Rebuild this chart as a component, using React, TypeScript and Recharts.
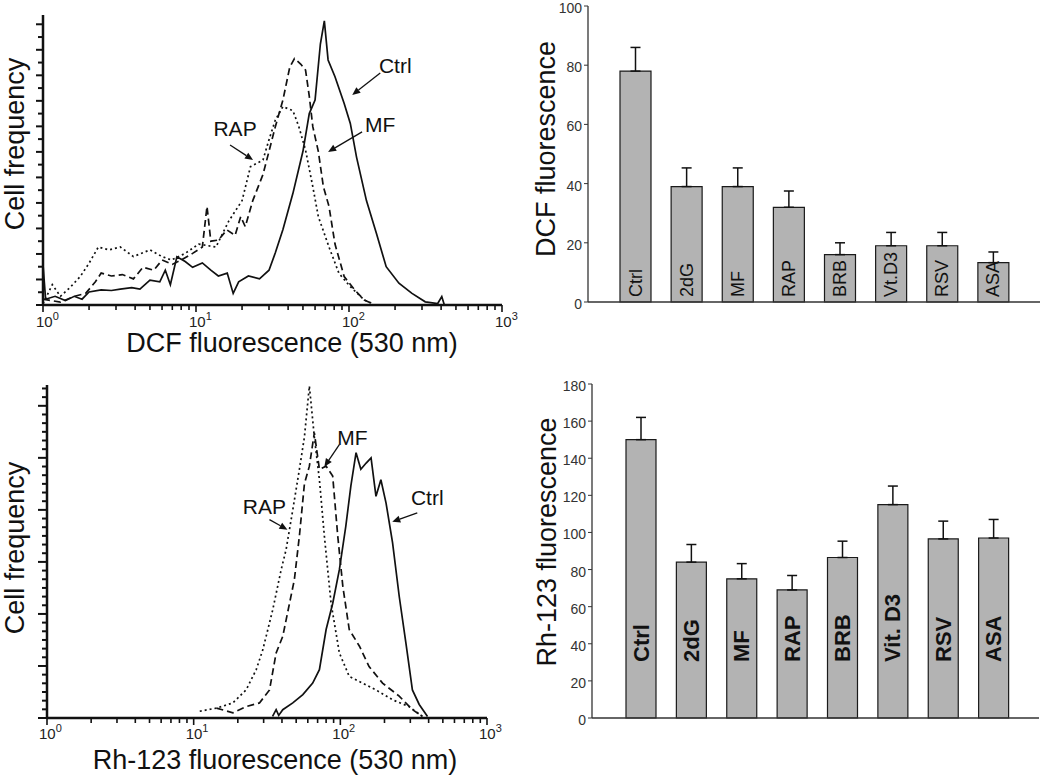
import React from "react";
import {
  LineChart,
  Line,
  XAxis,
  YAxis,
  ReferenceDot,
  BarChart,
  Bar,
  ErrorBar,
  LabelList,
} from "recharts";

const FONT = '"Liberation Sans", Arial, Helvetica, sans-serif';
const INK = "#111";

// DCF histogram (top left): x = fluorescence, y = cell count (arb. units)
const dcfCtrl = [
  { x: 1, y: 14 }, { x: 1.04, y: 2 }, { x: 1.2, y: 3 }, { x: 1.4, y: 1.5 },
  { x: 1.6, y: 3 }, { x: 1.8, y: 2 }, { x: 2.0, y: 4.5 }, { x: 2.4, y: 5.2 },
  { x: 2.8, y: 5 }, { x: 3.2, y: 5.5 }, { x: 3.8, y: 6 }, { x: 4.3, y: 5.5 },
  { x: 5, y: 8.6 }, { x: 5.8, y: 8 }, { x: 6.3, y: 12 }, { x: 6.8, y: 7 },
  { x: 7.5, y: 16.6 }, { x: 8.5, y: 15 }, { x: 9.5, y: 13 }, { x: 11, y: 14.5 },
  { x: 12.5, y: 12 }, { x: 14, y: 10 }, { x: 16, y: 11 }, { x: 17.5, y: 4 },
  { x: 19, y: 8 }, { x: 22, y: 10 }, { x: 26, y: 9 }, { x: 30, y: 12 },
  { x: 33, y: 18 }, { x: 37, y: 26 }, { x: 43, y: 38.5 }, { x: 50, y: 53 },
  { x: 55, y: 66 }, { x: 60, y: 70.7 }, { x: 65, y: 90 }, { x: 69, y: 98 },
  { x: 73, y: 84.5 }, { x: 81, y: 78.7 }, { x: 93, y: 69.5 }, { x: 102, y: 62.6 },
  { x: 112, y: 51 }, { x: 130, y: 36 }, { x: 151, y: 24.7 }, { x: 175, y: 13.2 },
  { x: 212, y: 7.5 }, { x: 258, y: 4 }, { x: 315, y: 1.1 }, { x: 380, y: 0.5 },
  { x: 404, y: 2.9 }, { x: 420, y: 0 },
];
const dcfMf = [
  { x: 1, y: 2 }, { x: 1.3, y: 1 }, { x: 1.6, y: 3 }, { x: 1.9, y: 4 },
  { x: 2.2, y: 8 }, { x: 2.4, y: 11 }, { x: 2.8, y: 10 }, { x: 3.3, y: 10.5 },
  { x: 3.9, y: 9 }, { x: 4.5, y: 13 }, { x: 5.3, y: 12 }, { x: 6, y: 15.5 },
  { x: 7, y: 14 }, { x: 8, y: 15.5 }, { x: 9.5, y: 17.8 }, { x: 11, y: 20 },
  { x: 11.8, y: 34 }, { x: 12.5, y: 22 }, { x: 14, y: 22.4 }, { x: 15.9, y: 25.9 },
  { x: 18, y: 24 }, { x: 19.6, y: 30.5 }, { x: 21, y: 27 }, { x: 23.5, y: 36 },
  { x: 27.4, y: 45 }, { x: 30, y: 53 }, { x: 33, y: 61.5 }, { x: 37, y: 70.7 },
  { x: 41, y: 82 }, { x: 44, y: 85 }, { x: 48.5, y: 83 }, { x: 52, y: 81 },
  { x: 55, y: 72 }, { x: 58, y: 61.5 }, { x: 63, y: 53 }, { x: 68, y: 40.8 },
  { x: 74, y: 34 }, { x: 81, y: 21 }, { x: 93, y: 9.8 }, { x: 109, y: 5.2 },
  { x: 126, y: 1.7 }, { x: 145, y: 0.3 },
];
const dcfRap = [
  { x: 1, y: 0.5 }, { x: 1.15, y: 7 }, { x: 1.3, y: 3 }, { x: 1.5, y: 6 },
  { x: 1.75, y: 9.8 }, { x: 2.0, y: 14.4 }, { x: 2.3, y: 20 }, { x: 2.7, y: 19 },
  { x: 3.2, y: 20 }, { x: 3.9, y: 16.7 }, { x: 5, y: 19 }, { x: 6, y: 16.7 },
  { x: 6.9, y: 15.5 }, { x: 8.5, y: 17.8 }, { x: 10.4, y: 21 }, { x: 13.5, y: 20 },
  { x: 16.4, y: 29 }, { x: 20, y: 36 }, { x: 22.7, y: 47.7 }, { x: 27.4, y: 50 },
  { x: 30, y: 57 }, { x: 33, y: 63.8 }, { x: 37, y: 68.4 }, { x: 43, y: 67 },
  { x: 47, y: 61.5 }, { x: 52, y: 53.4 }, { x: 58, y: 40.8 }, { x: 63, y: 30.5 },
  { x: 74, y: 20 }, { x: 86, y: 10.9 }, { x: 102, y: 6.3 }, { x: 126, y: 1.7 },
  { x: 145, y: 0.3 },
];

// Rh-123 histogram (bottom left)
const rhCtrl = [
  { x: 34.5, y: 0.3 }, { x: 36.5, y: 1.6 }, { x: 38, y: 0.5 }, { x: 40.5, y: 1.6 },
  { x: 47.4, y: 2.9 }, { x: 55.5, y: 4.5 }, { x: 64.8, y: 6.7 }, { x: 72, y: 9.3 },
  { x: 80, y: 17 }, { x: 88.7, y: 22 }, { x: 98.5, y: 28.5 }, { x: 109, y: 36.9 },
  { x: 118, y: 44.6 }, { x: 128, y: 51 }, { x: 138, y: 47.8 }, { x: 150, y: 49 },
  { x: 162, y: 50 }, { x: 175, y: 42.6 }, { x: 189, y: 45.8 }, { x: 205, y: 41.3 },
  { x: 227, y: 33.7 }, { x: 252, y: 23.4 }, { x: 280, y: 14.4 }, { x: 310, y: 5.4 },
  { x: 345, y: 2.6 }, { x: 393, y: 0.3 },
];
const rhMf = [
  { x: 14.3, y: 1.9 }, { x: 18.5, y: 1 }, { x: 22.8, y: 2.2 }, { x: 28.1, y: 2.9 },
  { x: 32.9, y: 5.4 }, { x: 36.5, y: 12.5 }, { x: 40.5, y: 15.7 }, { x: 45, y: 22 },
  { x: 48.6, y: 26.6 }, { x: 52.6, y: 35 }, { x: 56.9, y: 45 }, { x: 61.5, y: 48.4 },
  { x: 66.5, y: 54.8 }, { x: 72, y: 47.8 }, { x: 80, y: 48.4 }, { x: 88.7, y: 46.5 },
  { x: 96, y: 35 }, { x: 104, y: 25.3 }, { x: 115, y: 17 }, { x: 135, y: 13.8 },
  { x: 157, y: 9.9 }, { x: 194, y: 6.7 }, { x: 252, y: 4.2 }, { x: 310, y: 1.6 },
  { x: 363, y: 0.3 },
];
const rhRap = [
  { x: 11, y: 1.3 }, { x: 14.3, y: 1.9 }, { x: 18.5, y: 2.9 }, { x: 22.8, y: 5.4 },
  { x: 26.7, y: 9.3 }, { x: 29.6, y: 13.1 }, { x: 34.6, y: 20.8 }, { x: 39.5, y: 28.5 },
  { x: 42.7, y: 32.4 }, { x: 47.4, y: 40 }, { x: 52.6, y: 47.8 }, { x: 56.9, y: 54 },
  { x: 61.5, y: 63.8 }, { x: 66.5, y: 54 }, { x: 72, y: 45.8 }, { x: 77.8, y: 35 },
  { x: 86.5, y: 22 }, { x: 98.5, y: 12.5 }, { x: 115, y: 8 }, { x: 142, y: 6.7 },
  { x: 175, y: 5.4 }, { x: 227, y: 3.5 }, { x: 294, y: 2.2 }, { x: 363, y: 0.3 },
];

// decades 10^0..10^3 with the minor ticks in between
const logTicks = [
  1, 2, 3, 4, 5, 6, 7, 8, 9,
  10, 20, 30, 40, 50, 60, 70, 80, 90,
  100, 200, 300, 400, 500, 600, 700, 800, 900,
  1000,
];

// bar panels
const dcfGroups = ["Ctrl", "2dG", "MF", "RAP", "BRB", "Vt.D3", "RSV", "ASA"];
const dcfMeans = [78, 39, 39, 32, 16, 19, 19, 13.3];
const dcfSem = [8, 6.3, 6.3, 5.5, 4, 4.5, 4.5, 3.6];
const dcfTicks = [0, 20, 40, 60, 80, 100];

const rhGroups = ["Ctrl", "2dG", "MF", "RAP", "BRB", "Vit. D3", "RSV", "ASA"];
const rhMeans = [150, 84, 75, 69, 86.5, 115, 96.5, 97];
const rhSem = [12, 9.5, 8.2, 7.8, 8.8, 10, 9.6, 10];
const rhTicks = [0, 20, 40, 60, 80, 100, 120, 140, 160, 180];

interface Note {
  label: string;
  x: number;
  y: number;
  tail: [number, number];
  text: [number, number];
}

// arrow tip in data units; tail and text are pixel offsets from the tip
const dcfNotes: Note[] = [
  { label: "Ctrl", x: 105, y: 72.4, tail: [28, -22], text: [43, -30] },
  { label: "MF", x: 73, y: 52.8, tail: [34, -20], text: [52, -27] },
  { label: "RAP", x: 23.6, y: 50, tail: [-23, -15], text: [-18, -32] },
];
const rhNotes: Note[] = [
  { label: "MF", x: 77.8, y: 48.3, tail: [15, -22], text: [28, -29] },
  { label: "RAP", x: 43.6, y: 36.2, tail: [-18, -10], text: [-23, -23] },
  { label: "Ctrl", x: 226, y: 37.7, tail: [25, -9], text: [35, -24] },
];

function AxisTitle(props: any) {
  const vb = props.viewBox;
  if (!vb) return null;
  const cx = vb.x + vb.width / 2 + (props.dx || 0);
  const cy = vb.y + vb.height / 2 + (props.dy || 0);
  return (
    <text
      x={cx}
      y={cy}
      textAnchor="middle"
      dominantBaseline="central"
      transform={props.vertical ? `rotate(-90 ${cx} ${cy})` : undefined}
      fontSize={27}
      fontFamily={FONT}
      fill={INK}
    >
      {props.text}
    </text>
  );
}

function LogTick(props: any) {
  const { x, y, payload, labelDx, labelDy } = props;
  const l = Math.log10(payload.value);
  const exp = Math.round(l);
  const major = Math.abs(l - exp) < 1e-6;
  return (
    <g>
      <line x1={x} y1={y} x2={x} y2={y + (major ? 7 : 5)} stroke={INK} strokeWidth={1.6} />
      {major && (
        <text x={x + labelDx} y={y + labelDy} fontSize={15} fontFamily={FONT} fill="#222">
          10
          <tspan dy={-7} fontSize={11}>
            {exp}
          </tspan>
        </text>
      )}
    </g>
  );
}

function CountTick(props: any) {
  const { x, y, index, majorEvery, minorLen, majorLen } = props;
  const len = index % majorEvery === 0 ? majorLen : minorLen;
  return <line x1={x - len} y1={y} x2={x} y2={y} stroke={INK} strokeWidth={2} />;
}

function NoteMark(props: any) {
  const { cx, cy, note } = props;
  if (cx == null || cy == null) return null;
  const tx = cx + note.tail[0];
  const ty = cy + note.tail[1];
  const ang = Math.atan2(cy - ty, cx - tx);
  const h = 8;
  const w = 3.5;
  const bx = cx - h * Math.cos(ang);
  const by = cy - h * Math.sin(ang);
  const pts = [
    `${cx},${cy}`,
    `${bx + w * Math.sin(ang)},${by - w * Math.cos(ang)}`,
    `${bx - w * Math.sin(ang)},${by + w * Math.cos(ang)}`,
  ].join(" ");
  return (
    <g>
      <line x1={tx} y1={ty} x2={bx} y2={by} stroke={INK} strokeWidth={1.3} />
      <polygon points={pts} fill={INK} />
      <text
        x={cx + note.text[0]}
        y={cy + note.text[1]}
        textAnchor="middle"
        dominantBaseline="central"
        fontSize={21}
        fontFamily={FONT}
        fill={INK}
      >
        {note.label}
      </text>
    </g>
  );
}

interface HistogramProps {
  width: number;
  height: number;
  margin: { top: number; right: number; bottom: number; left: number };
  yAxisWidth: number;
  xAxisHeight: number;
  yMax: number;
  yStep: number;
  majorEvery: number;
  minorLen: number;
  majorLen: number;
  series: { data: { x: number; y: number }[]; dash?: string }[];
  notes: Note[];
  xTitle: string;
  xTitleShift: [number, number];
  yTitleShift: [number, number];
  tickLabel: [number, number];
}

function Histogram(p: HistogramProps) {
  const yTicks = Array.from(
    { length: Math.floor(p.yMax / p.yStep + 1e-6) + 1 },
    (_, i) => i * p.yStep
  );
  return (
    <LineChart width={p.width} height={p.height} margin={p.margin}>
      <XAxis
        dataKey="x"
        type="number"
        scale="log"
        domain={[1, 1000]}
        allowDataOverflow
        ticks={logTicks}
        interval={0}
        tickSize={0}
        tickMargin={0}
        tickLine={false}
        tick={(t: any) => (
          <LogTick {...t} labelDx={p.tickLabel[0]} labelDy={p.tickLabel[1]} />
        )}
        axisLine={{ stroke: INK, strokeWidth: 2.5 }}
        height={p.xAxisHeight}
        label={<AxisTitle text={p.xTitle} dx={p.xTitleShift[0]} dy={p.xTitleShift[1]} />}
      />
      <YAxis
        type="number"
        domain={[0, p.yMax]}
        allowDataOverflow
        ticks={yTicks}
        interval={0}
        tickSize={0}
        tickMargin={0}
        tickLine={false}
        tick={(t: any) => (
          <CountTick
            {...t}
            majorEvery={p.majorEvery}
            minorLen={p.minorLen}
            majorLen={p.majorLen}
          />
        )}
        axisLine={{ stroke: INK, strokeWidth: 2.5 }}
        width={p.yAxisWidth}
        label={
          <AxisTitle
            text="Cell frequency"
            vertical
            dx={p.yTitleShift[0]}
            dy={p.yTitleShift[1]}
          />
        }
      />
      {p.series.map((s, i) => (
        <Line
          key={i}
          data={s.data}
          dataKey="y"
          type="linear"
          stroke={INK}
          strokeWidth={1.7}
          strokeDasharray={s.dash}
          dot={false}
          activeDot={false}
          isAnimationActive={false}
        />
      ))}
      {p.notes.map((n) => (
        <ReferenceDot
          key={n.label}
          x={n.x}
          y={n.y}
          r={0}
          shape={(s: any) => <NoteMark {...s} note={n} />}
        />
      ))}
    </LineChart>
  );
}

function BarName(props: any) {
  const vb = props.viewBox ?? props;
  const { x, y, width, height } = vb;
  if (x == null) return null;
  const cx = x + width / 2;
  const by = y + height - props.lift;
  return (
    <text
      x={cx}
      y={by}
      textAnchor="start"
      dominantBaseline="central"
      transform={`rotate(-90 ${cx} ${by})`}
      fontSize={props.size}
      fontWeight={props.bold ? "bold" : "normal"}
      fontFamily={FONT}
      fill={INK}
    >
      {props.value}
    </text>
  );
}

interface BarPanelProps {
  width: number;
  height: number;
  margin: { top: number; right: number; bottom: number; left: number };
  yAxisWidth: number;
  xAxisHeight: number;
  groups: string[];
  means: number[];
  sem: number[];
  ticks: number[];
  barSize: number;
  padding: { left: number; right: number };
  yTitle: string;
  yTitleShift: [number, number];
  nameSize: number;
  nameBold: boolean;
  nameLift: number;
}

function BarPanel(p: BarPanelProps) {
  const data = p.groups.map((name, i) => ({
    name,
    mean: p.means[i],
    err: [0, p.sem[i]],
  }));
  const top = p.ticks[p.ticks.length - 1];
  return (
    <BarChart width={p.width} height={p.height} data={data} margin={p.margin}>
      <XAxis
        dataKey="name"
        padding={p.padding}
        tick={false}
        tickSize={4}
        tickLine={{ stroke: "#666" }}
        axisLine={{ stroke: "#333", strokeWidth: 1.3 }}
        height={p.xAxisHeight}
      />
      <XAxis
        xAxisId="frame"
        orientation="top"
        dataKey="name"
        tick={false}
        tickLine={false}
        axisLine={{ stroke: "#333", strokeWidth: 1.3 }}
        height={0}
      />
      <YAxis
        type="number"
        domain={[0, top]}
        ticks={p.ticks}
        interval={0}
        tickSize={4}
        tickMargin={2}
        tick={{ fontSize: 14, fill: "#333", fontFamily: FONT, dy: 2 }}
        tickLine={{ stroke: "#333" }}
        axisLine={{ stroke: "#333", strokeWidth: 1.3 }}
        width={p.yAxisWidth}
        label={
          <AxisTitle
            text={p.yTitle}
            vertical
            dx={p.yTitleShift[0]}
            dy={p.yTitleShift[1]}
          />
        }
      />
      <YAxis
        yAxisId="frame"
        orientation="right"
        tick={false}
        tickLine={false}
        axisLine={{ stroke: "#333", strokeWidth: 1.3 }}
        width={0}
      />
      <Bar
        dataKey="mean"
        fill="#b3b3b3"
        stroke="#1a1a1a"
        strokeWidth={1.2}
        barSize={p.barSize}
        isAnimationActive={false}
      >
        <ErrorBar dataKey="err" width={5} stroke={INK} strokeWidth={1.5} direction="y" />
        <LabelList
          dataKey="name"
          content={(l: any) => (
            <BarName {...l} size={p.nameSize} bold={p.nameBold} lift={p.nameLift} />
          )}
        />
      </Bar>
    </BarChart>
  );
}

export default function App() {
  return (
    <div
      style={{
        position: "absolute",
        left: 0,
        top: 0,
        width: 1050,
        height: 777,
        background: "#fff",
        fontFamily: FONT,
      }}
    >
      <div style={{ position: "absolute", left: 0, top: 0 }}>
        <Histogram
          width={520}
          height={370}
          margin={{ top: 15, right: 18, bottom: 0, left: 0 }}
          yAxisWidth={43}
          xAxisHeight={65}
          yMax={100}
          yStep={4.4}
          majorEvery={2}
          minorLen={5}
          majorLen={7}
          series={[
            { data: dcfRap, dash: "2 3" },
            { data: dcfMf, dash: "7 4" },
            { data: dcfCtrl },
          ]}
          notes={dcfNotes}
          xTitle="DCF fluorescence (530 nm)"
          xTitleShift={[19.5, 5.5]}
          yTitleShift={[-6.5, -16]}
          tickLabel={[-7, 22]}
        />
      </div>
      <div style={{ position: "absolute", left: 0, top: 370 }}>
        <Histogram
          width={520}
          height={407}
          margin={{ top: 15, right: 33, bottom: 0, left: 0 }}
          yAxisWidth={47}
          xAxisHeight={59}
          yMax={64}
          yStep={10 / 6}
          majorEvery={6}
          minorLen={5}
          majorLen={9}
          series={[
            { data: rhRap, dash: "2 3" },
            { data: rhMf, dash: "7 4" },
            { data: rhCtrl },
          ]}
          notes={rhNotes}
          xTitle="Rh-123 fluorescence (530 nm)"
          xTitleShift={[8, 12.5]}
          yTitleShift={[-8.5, -3.5]}
          tickLabel={[-8, 21]}
        />
      </div>
      <div style={{ position: "absolute", left: 520, top: 0 }}>
        <BarPanel
          width={530}
          height={340}
          margin={{ top: 6, right: 10, bottom: 0, left: 0 }}
          yAxisWidth={68}
          xAxisHeight={38}
          groups={dcfGroups}
          means={dcfMeans}
          sem={dcfSem}
          ticks={dcfTicks}
          barSize={31}
          padding={{ left: 22, right: 21 }}
          yTitle="DCF fluorescence"
          yTitleShift={[-8, -5]}
          nameSize={18}
          nameBold={false}
          nameLift={5}
        />
      </div>
      <div style={{ position: "absolute", left: 520, top: 370 }}>
        <BarPanel
          width={530}
          height={407}
          margin={{ top: 14, right: 11, bottom: 0, left: 0 }}
          yAxisWidth={72}
          xAxisHeight={59}
          groups={rhGroups}
          means={rhMeans}
          sem={rhSem}
          ticks={rhTicks}
          barSize={30}
          padding={{ left: 24, right: 20 }}
          yTitle="Rh-123 fluorescence"
          yTitleShift={[-9, -9]}
          nameSize={22}
          nameBold
          nameLift={56}
        />
      </div>
    </div>
  );
}
